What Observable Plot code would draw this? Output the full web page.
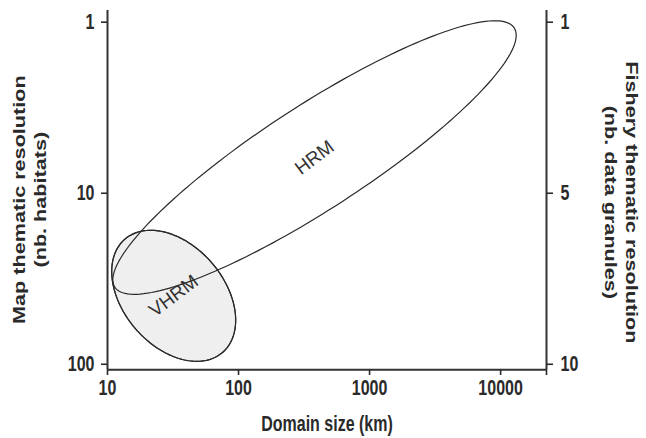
<!DOCTYPE html>
<html>
<head>
<meta charset="utf-8">
<script src="https://cdn.jsdelivr.net/npm/d3@7"></script>
<script src="https://cdn.jsdelivr.net/npm/@observablehq/plot@0.6"></script>
<style>
  html, body { margin: 0; padding: 0; background: #fff; }
  #chart svg { display: block; }
  #chart svg path, #chart svg line { vector-effect: non-scaling-stroke; }
</style>
</head>
<body>
<div id="chart"></div>
<script>
// Axis ticks
const xTicks = [10, 100, 1000, 10000];
const xDomain = [10, 22400];
const yTicks = [1, 10, 100];
const yDomain = [0.796, 100];
const yRightLabels = ["1", "5", "10"];

// Ellipses (regions), in data units: centre and semi-diameters in decades
const regions = ["VHRM", "HRM"];
const centerKm = [32, 380];
const centerHabitats = [37, 5.75];
const majorDecX = [0.373, 1.524];
const majorDecY = [0.331, -0.758];
const minorDecX = [-0.291, 0.216];
const minorDecY = [0.193, 0.255];
const regionFill = ["#efefef", "none"];

function outline(i) {
  const pts = [];
  for (let k = 0; k < 180; k++) {
    const t = (k / 180) * 2 * Math.PI;
    const lx = Math.log10(centerKm[i]) + majorDecX[i] * Math.cos(t) + minorDecX[i] * Math.sin(t);
    const ly = Math.log10(centerHabitats[i]) + majorDecY[i] * Math.cos(t) + minorDecY[i] * Math.sin(t);
    pts.push({region: regions[i], x: Math.pow(10, lx), y: Math.pow(10, ly)});
  }
  return pts;
}
const shapes = regions.map((r, i) => outline(i));
const labels = regions.map((r, i) => ({region: r, x: centerKm[i], y: centerHabitats[i]}));

const font = "'Liberation Sans', Arial, Helvetica, sans-serif";
const ink = "#2a2a2a";

// The figure is drawn in a 646x324 frame and shown stretched vertically to 438 px
const W = 646, H = 438, inner = 324, s = H / inner;

const chart = Plot.plot({
  width: W,
  height: inner,
  marginLeft: 107,
  marginRight: 100,
  marginTop: 10 / s,
  marginBottom: inner - 369 / s,
  style: {fontFamily: font, color: ink, background: "#fff"},
  x: {type: "log", domain: xDomain},
  y: {type: "log", domain: yDomain, reverse: true},
  marks: [
    Plot.line(shapes[0], {x: "x", y: "y", curve: "linear-closed", fill: regionFill[0], stroke: ink, strokeWidth: 1.2}),
    Plot.line(shapes[1], {x: "x", y: "y", curve: "linear-closed", fill: regionFill[1], stroke: ink, strokeWidth: 1.2}),
    Plot.line(shapes[0], {x: "x", y: "y", curve: "linear-closed", fill: "none", stroke: ink, strokeWidth: 1.2}),
    Plot.text(labels, {x: "x", y: "y", text: "region", rotate: -29, fontSize: 19, fill: "#333", fontFamily: font, className: "region-label"}),
    // frame
    Plot.ruleX([xDomain[0], xDomain[1]], {stroke: "#333", strokeWidth: 2}),
    Plot.ruleY([100], {stroke: "#333", strokeWidth: 2}),
    Plot.axisX([...xTicks, xDomain[1]], {
      tickSize: 6 / s, tickPadding: 3, fontSize: 16, fontWeight: "bold", strokeWidth: 1.6,
      tickFormat: d => xTicks.includes(d) ? String(d) : "",
      label: null
    }),
    Plot.axisY(yTicks, {
      anchor: "left", tickSize: 6, tickPadding: 7, fontSize: 16, fontWeight: "bold", strokeWidth: 1.6,
      tickFormat: d => String(d), dy: -4, label: null
    }),
    Plot.axisY(yTicks, {
      anchor: "right", tickSize: 6, tickPadding: 8, fontSize: 16, fontWeight: "bold", strokeWidth: 1.6,
      tickFormat: d => yRightLabels[yTicks.indexOf(d)], dy: -4, label: null
    }),
    Plot.text(["Domain size (km)"], {frameAnchor: "bottom", dy: 45, fontSize: 16, fontWeight: "bold", fill: ink}),
    Plot.text(["Map thematic resolution\n(nb. habitats)"], {frameAnchor: "left", textAnchor: "middle", dx: -79, dy: 7, rotate: -90, fontSize: 16, fontWeight: "bold", fill: ink, lineHeight: 1.3}),
    Plot.text(["Fishery thematic resolution\n(nb. data granules)"], {frameAnchor: "right", textAnchor: "middle", dx: 76, dy: 9, rotate: 90, fontSize: 16, fontWeight: "bold", fill: ink, lineHeight: 1.3})
  ]
});
// region labels: undo the vertical stretch so the glyphs read upright at -37°
d3.select(chart).selectAll(".region-label text").each(function() {
  const t = this.getAttribute("transform") || "";
  this.setAttribute("transform", t.replace(/rotate\([^)]*\)/, `scale(1,${1 / s}) rotate(-37)`));
});
chart.setAttribute("height", H);
chart.setAttribute("preserveAspectRatio", "none");
chart.style.height = H + "px";
chart.style.width = W + "px";
chart.style.maxWidth = "none";
document.getElementById("chart").appendChild(chart);
</script>
</body>
</html>
